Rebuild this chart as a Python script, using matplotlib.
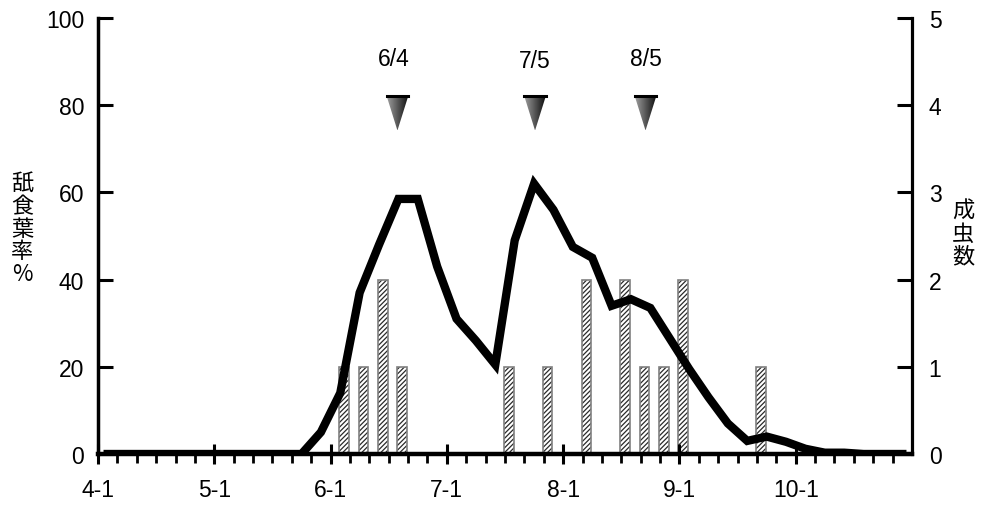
import numpy as np
import matplotlib.pyplot as plt
from matplotlib.patches import Polygon

plt.rcParams['font.family'] = ['Liberation Sans', 'DejaVu Sans']
plt.rcParams['hatch.linewidth'] = 0.9

# 5-day periods from 4-1 (6 per month)
month_labels = ['4-1', '5-1', '6-1', '7-1', '8-1', '9-1', '10-1']
feeding_rate = [0, 0, 0, 0, 0, 0, 0, 0, 0, 0, 0,
                5, 14, 37, 48, 58.5, 58.5, 43, 31, 26, 20.5,
                49, 62, 56, 47.5, 45, 34, 35.5, 33.5, 26.5, 19.5,
                13, 7, 3, 4, 2.8, 1.2, 0.3, 0.3, 0, 0, 0]

# adult counts (right axis), positions in period units
adult_pos = [12.7, 13.7, 14.7, 15.7, 21.2, 23.2, 25.2, 27.2, 28.2, 29.2, 30.2, 34.2]
adult_count = [1, 1, 2, 1, 1, 1, 2, 2, 1, 1, 2, 1]

# spray markers
spray_labels = ['6/4', '7/5', '8/5']
spray_pos = [15.45, 22.55, 28.25]
spray_text_y = [90.8, 90.2, 90.8]

fig = plt.figure(figsize=(9.82, 5.06), dpi=100)
ax = fig.add_axes([98 / 982, 51 / 506, 814 / 982, 436 / 506])
ax2 = ax.twinx()
ax.set_zorder(ax2.get_zorder() + 1)
ax.patch.set_visible(False)

# bars on right axis
ax2.bar(adult_pos, adult_count, width=0.5, color='white', edgecolor='#2a2a2a',
        linewidth=0, hatch='///////')
ax2.bar(adult_pos, adult_count, width=0.5, fill=False, edgecolor='#808080', linewidth=1.2)
ax2.set_ylim(0, 5)
ax2.set_yticks(range(6))

# feeding-rate line
x = np.arange(len(feeding_rate)) + 0.5
ax.plot(x, feeding_rate, color='black', lw=6.0, solid_joinstyle='miter', zorder=5)

# spray triangles with gradient
grad = np.tile(np.linspace(0.62, 0.05, 64), (32, 1))
for lab, p, ty in zip(spray_labels, spray_pos, spray_text_y):
    tri = Polygon([[p - 0.55, 82], [p + 0.55, 82], [p, 74.2]], closed=True,
                  facecolor='none', edgecolor='none')
    ax.add_patch(tri)
    im = ax.imshow(grad, extent=[p - 0.55, p + 0.55, 74.2, 82], aspect='auto',
                   cmap='gray', vmin=0, vmax=1, zorder=4)
    im.set_clip_path(tri)
    ax.plot([p - 0.55, p + 0.55], [82, 82], color='black', lw=2.2, zorder=6)
    ax.text(p - 0.2 if lab == '6/4' else p, ty, lab,
            ha='center', va='center', fontsize=16.5)

ax.set_xlim(0, 42)
ax.set_ylim(0, 100)
ax.set_xticks(range(0, 37, 6))
ax.set_xticklabels(month_labels)
ax.set_xticks(range(0, 42), minor=True)
ax.set_yticks(range(0, 101, 20))

for a in (ax, ax2):
    a.spines['top'].set_visible(False)
ax.spines['left'].set_linewidth(2.5)
ax.spines['bottom'].set_linewidth(3.2)
ax2.spines['right'].set_linewidth(2.3)
ax2.spines['left'].set_visible(False)
ax2.spines['bottom'].set_visible(False)
ax.spines['right'].set_visible(False)

ax.tick_params(axis='y', direction='in', length=10.5, width=2.2, pad=10, labelsize=16.5)
ax.tick_params(axis='x', which='major', direction='inout', length=15, width=2.2,
               pad=10, labelsize=16.5)
ax.tick_params(axis='x', which='minor', direction='out', length=6.5, width=2.0)
ax2.tick_params(axis='y', direction='in', length=10.5, width=2.2, pad=12, labelsize=16.5)

fig.text(22 / 982, 1 - 229 / 506, '舐\n食\n葉\n率\n%', ha='center', va='center',
         fontsize=16, linespacing=0.98, family=['Noto Sans CJK JP', 'DejaVu Sans'])
fig.text(963 / 982, 1 - 234 / 506, '成\n虫\n数', ha='center', va='center',
         fontsize=16, linespacing=0.98, family=['Noto Sans CJK JP', 'DejaVu Sans'])

fig.savefig('out.png', dpi=100)
